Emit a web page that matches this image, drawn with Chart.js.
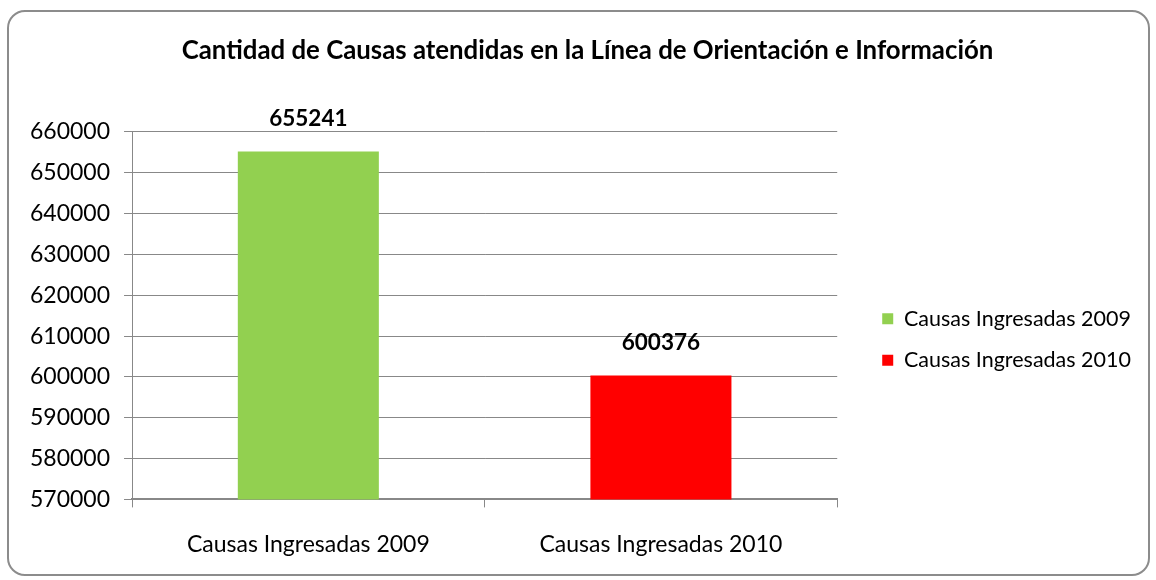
<!DOCTYPE html>
<html>
<head>
<meta charset="utf-8">
<script src="https://cdn.jsdelivr.net/npm/chart.js@4/dist/chart.umd.min.js"></script>
<style>
  html, body { margin: 0; padding: 0; background: #fff; }
  #wrap { position: relative; width: 1156px; height: 580px; }
  #frame { position: absolute; left: 7px; top: 10px; width: 1139px; height: 562px;
           border: 2px solid #8c8c8c; border-radius: 18px; pointer-events: none; }
  canvas { position: absolute; left: 0; top: 0; }
</style>
</head>
<body>
<div id="wrap">
  <canvas id="c" width="1156" height="580"></canvas>
  <div id="frame"></div>
</div>
<script>
const titleText = 'Cantidad de Causas atendidas en la Línea de Orientación e Información';
const categories = ['Causas Ingresadas 2009', 'Causas Ingresadas 2010'];
const values = [655241, 600376];
const barColors = ['#92d050', '#ff0000'];
const yMin = 570000;
const yMax = 660000;
const yStep = 10000;

const FONT = 'Lato, "Open Sans", sans-serif';
const LEGEND_GAP = 25;
const LEGEND_DROP = 49;
const TITLE_SHIFT = 9;

const valueLabels = {
  id: 'valueLabels',
  afterDatasetsDraw(chart) {
    const ctx = chart.ctx;
    const meta = chart.getDatasetMeta(0);
    ctx.save();
    ctx.font = 'bold 22.5px ' + FONT;
    ctx.fillStyle = '#000';
    ctx.textAlign = 'center';
    ctx.textBaseline = 'middle';
    meta.data.forEach((bar, i) => {
      ctx.fillText(String(values[i]), bar.x, bar.y - 33);
    });
    ctx.restore();
  }
};

// extra space between the plot area and the legend, legend lowered, title nudged right
const layoutTweaks = {
  id: 'layoutTweaks',
  beforeUpdate(chart) {
    const lg = chart.legend;
    if (lg && !lg._gapPatched) {
      const fit = lg.fit.bind(lg);
      lg.fit = function () { fit(); this.width += LEGEND_GAP; };
      lg._gapPatched = true;
    }
  },
  afterLayout(chart) {
    const lg = chart.legend;
    if (lg) {
      lg.left += LEGEND_GAP;
      lg.top += LEGEND_DROP;
      lg.bottom += LEGEND_DROP;
    }
    const tb = chart.titleBlock;
    if (tb) {
      tb.left += TITLE_SHIFT;
      tb.right += TITLE_SHIFT;
    }
  }
};

new Chart(document.getElementById('c'), {
  type: 'bar',
  data: {
    labels: categories,
    datasets: [{
      label: 'Causas',
      data: values,
      backgroundColor: barColors,
      borderWidth: 0,
      barPercentage: 0.4,
      categoryPercentage: 1.0
    }]
  },
  options: {
    responsive: false,
    animation: false,
    layout: { padding: { left: 16, right: 15, top: 0, bottom: -1 } },
    plugins: {
      title: {
        display: true,
        text: titleText,
        color: '#000',
        font: { family: FONT, size: 25.8, weight: 'bold' },
        padding: { top: 35, bottom: 66 }
      },
      legend: {
        display: true,
        position: 'right',
        align: 'center',
        labels: {
          color: '#000',
          font: { family: FONT, size: 21.5 },
          boxWidth: 11,
          boxHeight: 11,
          padding: 20,
          generateLabels(chart) {
            return categories.map((c, i) => ({
              text: c,
              fillStyle: barColors[i],
              strokeStyle: barColors[i],
              lineWidth: 0,
              hidden: false,
              index: i
            }));
          }
        }
      },
      tooltip: { enabled: false }
    },
    scales: {
      x: {
        grid: { display: true, drawOnChartArea: false, drawTicks: true, tickLength: 8, color: '#888', offset: true },
        border: { display: true, color: '#888', width: 2 },
        ticks: { color: '#000', font: { family: FONT, size: 23 }, padding: 23, maxRotation: 0 }
      },
      y: {
        min: yMin,
        max: yMax,
        ticks: { stepSize: yStep, color: '#000', font: { family: FONT, size: 23 }, padding: 14,
                 callback: (v) => String(v) },
        grid: { color: '#888', lineWidth: 1, drawTicks: true, tickLength: 8 },
        border: { display: true, color: '#888', width: 1 }
      }
    }
  },
  plugins: [valueLabels, layoutTweaks]
});
</script>
</body>
</html>
